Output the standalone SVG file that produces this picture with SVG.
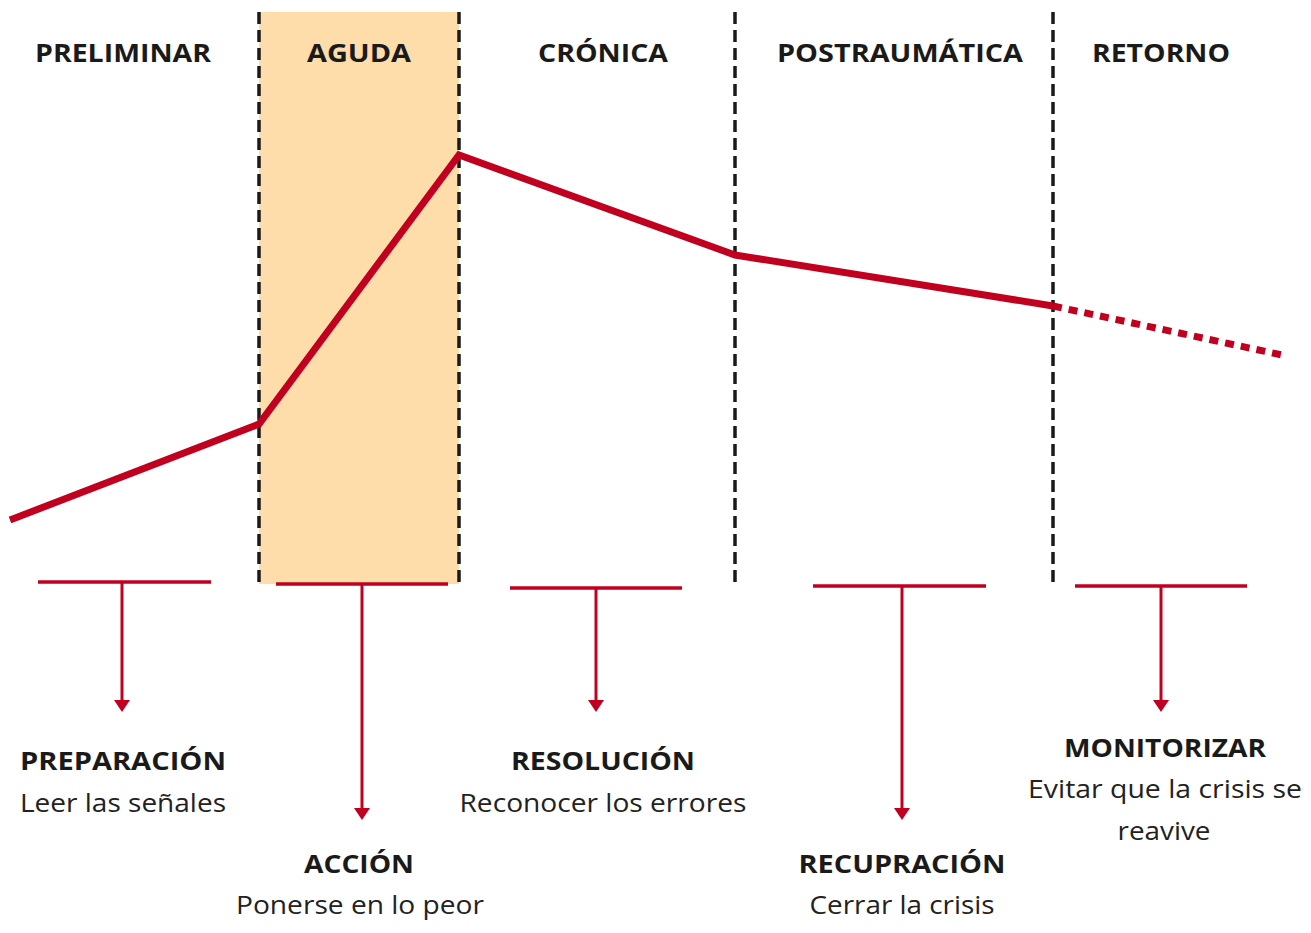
<svg xmlns="http://www.w3.org/2000/svg" width="1311" height="933" viewBox="0 0 1311 933">
<style>
.h{font-family:"Open Sans","DejaVu Sans",sans-serif;font-weight:700;font-size:25px;fill:#1a1a1a;text-anchor:middle}
.t{font-family:"Open Sans","DejaVu Sans",sans-serif;font-weight:400;font-size:25px;fill:#222;text-anchor:middle}
.div{stroke:#1a1a1a;stroke-width:3.5;stroke-dasharray:12 6;fill:none}
.curve{stroke:#C10020;stroke-width:7;fill:none;stroke-linejoin:miter}
.bar{stroke:#C10020;stroke-width:3.5;fill:none}
.stem{stroke:#C10020;stroke-width:3;fill:none}
</style>
<defs>
<marker id="ah" viewBox="0 0 12 16" refX="6" refY="8" markerWidth="12" markerHeight="16" markerUnits="userSpaceOnUse" orient="auto">
<path d="M0 0 L12 8 L0 16 Z" fill="#C10020"/>
</marker>
</defs>
<rect x="0" y="0" width="1311" height="933" fill="#fff"/>
<g id="zone-aguda"><rect x="259" y="12" width="200" height="572" fill="#FEDDAA"/></g>
<g id="dividers">
<line class="div" x1="259" y1="12" x2="259" y2="584"/>
<line class="div" x1="459" y1="12" x2="459" y2="584"/>
<line class="div" x1="735" y1="12" x2="735" y2="584"/>
<line class="div" x1="1053" y1="12" x2="1053" y2="584"/>
</g>
<g id="headers">
<text class="h" x="123" y="62" textLength="176" lengthAdjust="spacingAndGlyphs">PRELIMINAR</text>
<text class="h" x="359" y="62" textLength="104" lengthAdjust="spacingAndGlyphs">AGUDA</text>
<text class="h" x="603" y="62" textLength="130" lengthAdjust="spacingAndGlyphs">CRÓNICA</text>
<text class="h" x="900" y="62" textLength="246" lengthAdjust="spacingAndGlyphs">POSTRAUMÁTICA</text>
<text class="h" x="1161" y="62" textLength="138" lengthAdjust="spacingAndGlyphs">RETORNO</text>
</g>
<g id="curve">
<polyline class="curve" points="10,520 259,424 459,155 735,255 1053,306"/>
<line class="curve" x1="1053" y1="306" x2="1282" y2="355" stroke-dasharray="9 7"/>
</g>
<g id="connectors">
<line class="bar" x1="38" y1="582" x2="211" y2="582"/>
<line class="stem" x1="122" y1="582" x2="122" y2="706" marker-end="url(#ah)"/>
<line class="bar" x1="276" y1="584" x2="448" y2="584"/>
<line class="stem" x1="362" y1="584" x2="362" y2="814" marker-end="url(#ah)"/>
<line class="bar" x1="510" y1="588" x2="682" y2="588"/>
<line class="stem" x1="596" y1="588" x2="596" y2="706" marker-end="url(#ah)"/>
<line class="bar" x1="813" y1="586" x2="986" y2="586"/>
<line class="stem" x1="902" y1="586" x2="902" y2="814" marker-end="url(#ah)"/>
<line class="bar" x1="1075" y1="586" x2="1247" y2="586"/>
<line class="stem" x1="1161" y1="586" x2="1161" y2="706" marker-end="url(#ah)"/>
</g>
<g id="preparacion">
<text class="h" x="123" y="770" textLength="206" lengthAdjust="spacingAndGlyphs">PREPARACIÓN</text>
<text class="t" x="123" y="812" textLength="206" lengthAdjust="spacingAndGlyphs">Leer las señales</text>
</g>
<g id="accion">
<text class="h" x="359" y="873" textLength="110" lengthAdjust="spacingAndGlyphs">ACCIÓN</text>
<text class="t" x="360" y="914" textLength="248" lengthAdjust="spacingAndGlyphs">Ponerse en lo peor</text>
</g>
<g id="resolucion">
<text class="h" x="603" y="770" textLength="184" lengthAdjust="spacingAndGlyphs">RESOLUCIÓN</text>
<text class="t" x="603" y="812" textLength="287" lengthAdjust="spacingAndGlyphs">Reconocer los errores</text>
</g>
<g id="recupracion">
<text class="h" x="902" y="873" textLength="207" lengthAdjust="spacingAndGlyphs">RECUPRACIÓN</text>
<text class="t" x="902" y="914" textLength="185" lengthAdjust="spacingAndGlyphs">Cerrar la crisis</text>
</g>
<g id="monitorizar">
<text class="h" x="1165" y="757" textLength="202" lengthAdjust="spacingAndGlyphs">MONITORIZAR</text>
<text class="t" x="1165" y="798" textLength="274" lengthAdjust="spacingAndGlyphs">Evitar que la crisis se</text>
<text class="t" x="1164" y="840" textLength="93" lengthAdjust="spacingAndGlyphs">reavive</text>
</g>
</svg>
